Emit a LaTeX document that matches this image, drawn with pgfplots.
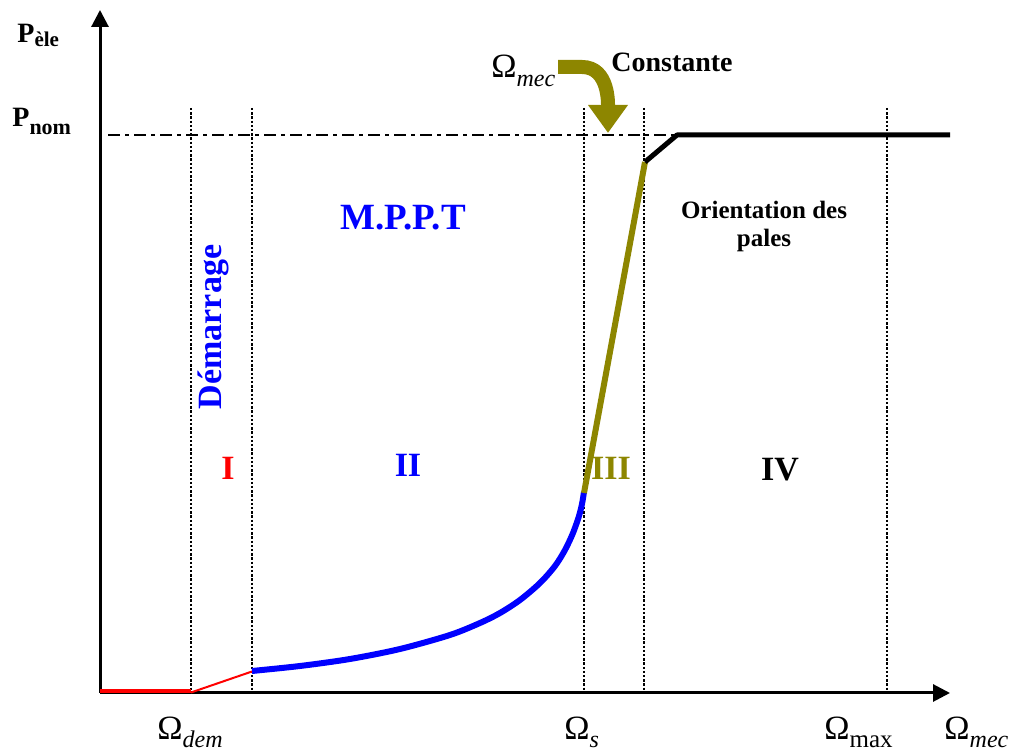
\documentclass[border=0pt]{standalone}
\usepackage{fontspec}
\setmainfont{Liberation Serif}
\usepackage{pgfplots}
\pgfplotsset{compat=1.18}
\usetikzlibrary{arrows.meta}
\begin{document}
\begin{tikzpicture}
\begin{axis}[width=507pt, height=377pt, scale only axis,
  xmin=0, xmax=1014, ymin=0, ymax=754, hide axis, clip=false]
% boundary (invisible)
\path (axis cs:0,0) rectangle (axis cs:1014,754);
% vertical dotted separators
\foreach \xx in {191,252,584,644,887}{
  \edef\tmp{\noexpand\draw[black, line width=1.1pt, dash pattern=on 1.2pt off 0.9pt] (axis cs:\xx,646) -- (axis cs:\xx,61);}\tmp
}
% P_nom dash-dot line
\addplot[black, line width=1pt, dash pattern=on 6pt off 2.5pt on 2pt off 2.5pt] coordinates {(108,619) (950,619)};
% axes
\addplot[black, line width=1.5pt, -{Triangle[length=8.5pt,width=8.5pt]}] coordinates {(100,61) (950,61)};
\addplot[black, line width=1.5pt, -{Triangle[length=8.5pt,width=8.5pt]}] coordinates {(100,61) (100,744)};
% zone I (red)
\addplot[red, line width=2pt] coordinates {(100,62.5) (191,62.5)};
\addplot[red, line width=1pt] coordinates {(191,61.5) (252,82.5)};
% zone II (blue MPPT curve)
\addplot[blue, line width=3pt, smooth, tension=0.5] coordinates {
 (252,83) (300,88) (350,95) (400,105) (450,119) (480,131) (500,141)
 (520,154) (540,171) (555,188) (565,204) (573,221) (579,238) (582,250) (584,262)};
% zone III (olive)
\addplot[olive, line width=3pt] coordinates {(584,261) (645,592)};
% zone IV (black)
\addplot[black, line width=2.5pt, line join=round] coordinates {(645,592) (677,619) (950,619)};
% curved arrow
\draw[olive, line width=7pt, -{Triangle[length=14pt,width=19pt]}]
  (axis cs:558,687) -- (axis cs:582,687) to[out=0,in=90] (axis cs:608,621);
% texts
\node[anchor=base west, inner sep=0pt] at (axis cs:17,711)
  {\fontsize{14}{14}\selectfont\bfseries P\raisebox{-2pt}{\fontsize{10.5}{10.5}\selectfont èle}};
\node[anchor=base west, inner sep=0pt] at (axis cs:12,627)
  {\fontsize{14}{14}\selectfont\bfseries P\raisebox{-4pt}{\fontsize{11}{11}\selectfont nom}};
\node[anchor=base west, inner sep=0pt] at (axis cs:491,676)
  {\fontsize{17}{17}\selectfont Ω\raisebox{-4.5pt}{\fontsize{12}{12}\selectfont\itshape mec}};
\node[inner sep=0pt] at (axis cs:672,692) {\fontsize{14}{14}\selectfont\bfseries Constante};
\node[inner sep=0pt, text=blue] at (axis cs:403,536) {\fontsize{18.5}{18.5}\selectfont\bfseries M.P.P.T};
\node[inner sep=0pt, align=center, font=\fontsize{12.5}{14}\selectfont\bfseries] at (axis cs:764,528)
  {Orientation des\\ pales};
\node[inner sep=0pt, text=blue, rotate=90] at (axis cs:213,427) {\fontsize{17}{17}\selectfont\bfseries Démarrage};
\node[inner sep=0pt, text=red] at (axis cs:228,286) {\fontsize{17}{17}\selectfont\bfseries I};
\node[inner sep=0pt, text=blue] at (axis cs:408,289) {\fontsize{17}{17}\selectfont\bfseries II};
\node[inner sep=0pt, text=olive] at (axis cs:611,286) {\fontsize{17}{17}\selectfont\bfseries III};
\node[inner sep=0pt] at (axis cs:780,284) {\fontsize{17}{17}\selectfont\bfseries IV};
% bottom labels
\node[anchor=base west, inner sep=0pt] at (axis cs:157,14)
  {\fontsize{17}{17}\selectfont Ω\raisebox{-4pt}{\fontsize{12}{12}\selectfont\itshape dem}};
\node[anchor=base west, inner sep=0pt] at (axis cs:564,14)
  {\fontsize{17}{17}\selectfont Ω\raisebox{-4pt}{\fontsize{12}{12}\selectfont\itshape s}};
\node[anchor=base west, inner sep=0pt] at (axis cs:824,14)
  {\fontsize{17}{17}\selectfont Ω\raisebox{-4pt}{\fontsize{12.5}{12.5}\selectfont max}};
\node[anchor=base west, inner sep=0pt] at (axis cs:944,14)
  {\fontsize{17}{17}\selectfont Ω\raisebox{-4pt}{\fontsize{12}{12}\selectfont\itshape mec}};
\end{axis}
\end{tikzpicture}
\end{document}
